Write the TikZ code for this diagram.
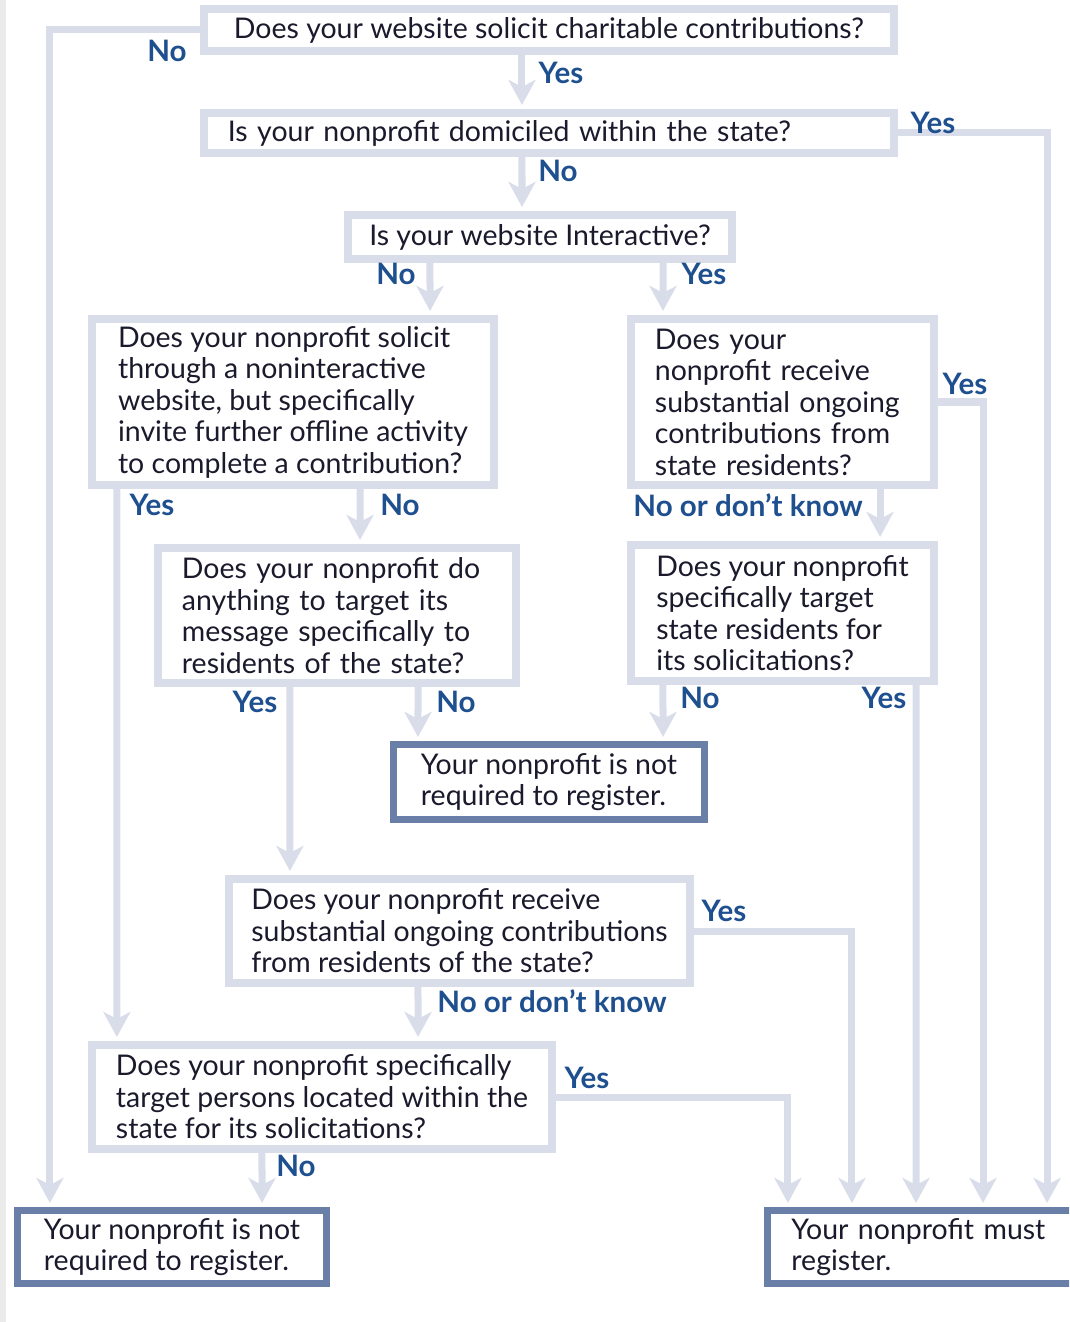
\documentclass[tikz,border=0pt]{standalone}
\usepackage{fontspec}
\setsansfont{Lato}
\usetikzlibrary{arrows.meta,positioning}
\definecolor{lineclr}{HTML}{D9DDEA}
\definecolor{endclr}{HTML}{6A7FA8}
\definecolor{ansclr}{HTML}{1E4F8E}
\definecolor{txtclr}{HTML}{1A1A2C}

\begin{document}
\begin{tikzpicture}[
  x=0.01cm,y=-0.01cm,
  font=\fontsize{8.1}{8.96}\selectfont\sffamily,
  qbox/.style={draw=lineclr,line width=0.08cm,fill=white,text=txtclr,
               align=left,inner xsep=0.2cm,inner ysep=0pt},
  endbox/.style={draw=endclr,line width=0.07cm,fill=white,text=txtclr,
                 align=left,inner xsep=0.2cm,inner ysep=0pt},
  ans/.style={text=ansclr,inner sep=0pt,
              font=\fontsize{8.4}{9}\selectfont\sffamily\bfseries},
  arr/.style={-{Stealth[length=0.25cm,width=0.27cm,inset=0.07cm]},
              lineclr,line width=0.07cm,shorten >=0.04cm},
]
  \useasboundingbox (0,0) rectangle (1069,1322);
  \clip (0,0) rectangle (1069,1322);
  \fill[black!8] (0,0) rectangle (6,1322);

  % questions
  \node[qbox,minimum width=6.90cm,minimum height=0.42cm]
    (q1) at (549,30) {Does your website solicit charitable contributions?};
  \node[qbox,minimum width=6.90cm,minimum height=0.40cm,text width=6.42cm]
    (q2) at (549,133) {Is your nonprofit domiciled within the state?};
  \node[qbox,minimum width=3.84cm,minimum height=0.44cm]
    (q3) at (540,237) {Is your website Interactive?};
  \node[qbox,minimum width=4.02cm,minimum height=1.66cm]
    (q4) at (293,402) {Does your nonprofit solicit\\through a noninteractive\\
      website, but specifically\\invite further offline activity\\
      to complete a contribution?};
  \node[qbox,minimum width=3.03cm,minimum height=1.66cm,text width=2.55cm]
    (q5) at (782.5,402) {Does your\\nonprofit receive\\substantial ongoing\\
      contributions from\\state residents?};
  \node[qbox,minimum width=3.58cm,minimum height=1.35cm,text width=3.10cm]
    (q6) at (337,615.5) {Does your nonprofit do\\anything to target its\\
      message specifically to\\residents of the state?};
  \node[qbox,minimum width=3.03cm,minimum height=1.36cm]
    (q7) at (782.5,613) {Does your nonprofit\\specifically target\\
      state residents for\\its solicitations?};
  \node[qbox,minimum width=4.61cm,minimum height=1.04cm]
    (q8) at (459.5,931) {Does your nonprofit receive\\
      substantial ongoing contributions\\from residents of the state?};
  \node[qbox,minimum width=4.60cm,minimum height=1.04cm]
    (q9) at (322,1097) {Does your nonprofit specifically\\
      target persons located within the\\state for its solicitations?};

  % outcomes
  \node[endbox,minimum width=3.11cm,minimum height=0.75cm]
    (nr2) at (549,782) {Your nonprofit is not\\required to register.};
  \node[endbox,minimum width=3.09cm,minimum height=0.73cm]
    (nr1) at (172,1247) {Your nonprofit is not\\required to register.};
  \node[endbox,minimum width=3.40cm,minimum height=0.73cm,text width=2.92cm]
    (must) at (937.5,1247) {Your nonprofit must\\register.};

  \draw[arr] ([xshift=-0.27cm]q1.south) -- ([xshift=-0.27cm]q2.north);
  \draw[arr] (q1.west) -| ([xshift=-1.22cm]nr1.north);
  \draw[arr] ([xshift=-0.27cm]q2.south) -- ([xshift=-0.18cm]q3.north);
  \draw[arr] (q2.east) -| ([xshift=1.095cm]must.north);
  \draw[arr] ([xshift=-1.10cm]q3.south) -- ([xshift=1.37cm]q4.north);
  \draw[arr] ([xshift=1.23cm]q3.south) -- ([xshift=-1.195cm]q5.north);
  \draw[arr] ([xshift=-1.76cm]q4.south) -- ([xshift=-2.05cm]q9.north);
  \draw[arr] ([xshift=0.67cm]q4.south) -- ([xshift=0.23cm]q6.north);
  \draw[arr] (q5.east) -| ([xshift=0.455cm]must.north);
  \draw[arr] ([xshift=0.975cm]q5.south) -- ([xshift=0.975cm]q7.north);
  \draw[arr] ([xshift=-0.47cm]q6.south) -- ([xshift=-1.695cm]q8.north);
  \draw[arr] ([xshift=0.81cm]q6.south) -- ([xshift=-1.31cm]nr2.north);
  \draw[arr] ([xshift=-1.195cm]q7.south) -- ([xshift=1.14cm]nr2.north);
  \draw[arr] ([xshift=1.335cm]q7.south) -- ([xshift=-0.215cm]must.north);
  \draw[arr] (q8.east) -| ([xshift=-0.855cm]must.north);
  \draw[arr] ([xshift=-0.415cm]q8.south) -- ([xshift=0.96cm]q9.north);
  \draw[arr] (q9.east) -| ([xshift=-1.495cm]must.north);
  \draw[arr] ([xshift=-0.60cm]q9.south) -- ([xshift=0.90cm]nr1.north);

  % answers
  \node[ans] (a1y) at (561,73) {Yes};
  \node[ans] (a1n) at (167,51) {No};
  \node[ans] (a2y) at (933,123) {Yes};
  \node[ans] (a2n) at (558,171) {No};
  \node[ans] (a3n) at (396,274) {No};
  \node[ans] (a3y) at (704,274) {Yes};
  \node[ans] (a4y) at (152,505) {Yes};
  \node[ans] (a4n) at (400,505) {No};
  \node[ans] (a5y) at (965,384) {Yes};
  \node[ans] (a5n) at (748,505) {No or don’t know};
  \node[ans] (a6y) at (255,702) {Yes};
  \node[ans] (a6n) at (456,702) {No};
  \node[ans] (a7n) at (700,698) {No};
  \node[ans] (a7y) at (884,698) {Yes};
  \node[ans] (a8y) at (724,911) {Yes};
  \node[ans] (a8n) at (552,1001) {No or don’t know};
  \node[ans] (a9y) at (587,1078) {Yes};
  \node[ans] (a9n) at (296,1166) {No};
\end{tikzpicture}
\end{document}
